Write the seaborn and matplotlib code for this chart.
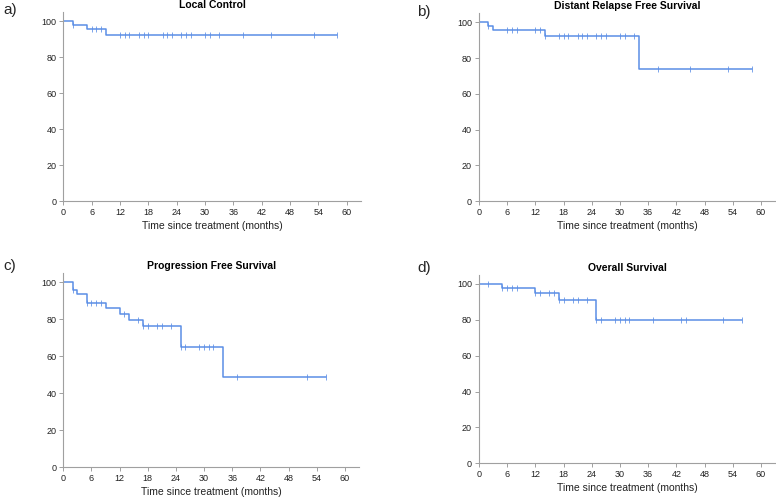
import numpy as np
import pandas as pd
import matplotlib
matplotlib.use("Agg")
import matplotlib.pyplot as plt
import seaborn as sns

sns.set_style("white")
plt.rcParams['font.family'] = ['Liberation Sans', 'DejaVu Sans']

titles = ["Local Control", "Distant Relapse Free Survival",
          "Progression Free Survival", "Overall Survival"]
panel_labels = ["a)", "b)", "c)", "d)"]

# Local control
lc_event_times = [2, 5, 9]
lc_levels = [97.8, 95.6, 92.6]
lc_end = 58
lc_censor = [2, 6, 7, 8, 12, 13, 14, 16, 17, 18, 21, 22, 23, 25, 26, 27,
             30, 31, 33, 38, 44, 53, 58]

# Distant relapse free survival
drfs_event_times = [2, 3, 14, 34]
drfs_levels = [97.8, 95.5, 92.1, 73.7]
drfs_end = 58
drfs_censor = [2, 6, 7, 8, 12, 13, 14, 17, 18, 19, 21, 22, 23, 25, 26, 27,
               30, 31, 33, 38, 45, 53, 58]

# Progression free survival
pfs_event_times = [2, 3, 5, 9, 12, 14, 17, 25, 34]
pfs_levels = [95.8, 93.5, 89.0, 85.9, 83.0, 79.6, 76.2, 65.2, 48.9]
pfs_end = 56
pfs_censor = [2, 5, 6, 7, 8, 13, 16, 17, 18, 20, 21, 23, 25, 26, 29, 30,
              31, 32, 37, 52, 56]

# Overall survival
os_event_times = [5, 12, 17, 25]
os_levels = [97.6, 94.8, 90.9, 79.8]
os_end = 56
os_censor = [2, 5, 6, 7, 8, 12, 13, 15, 16, 17, 18, 20, 21, 23, 25, 26,
             29, 30, 31, 32, 37, 43, 44, 52, 56]

series = [
    (lc_event_times, lc_levels, lc_end, lc_censor),
    (drfs_event_times, drfs_levels, drfs_end, drfs_censor),
    (pfs_event_times, pfs_levels, pfs_end, pfs_censor),
    (os_event_times, os_levels, os_end, os_censor),
]

W, H = 776, 501
fig = plt.figure(figsize=(W / 100, H / 100), dpi=100)

# axes rectangles in pixels: left, top(ylim top), right, bottom
rects = [
    (63.3, 12.3, 361.0, 201.3),
    (479.0, 13.3, 775.0, 201.3),
    (63.3, 273.1, 359.0, 467.3),
    (479.0, 275.0, 775.0, 463.3),
]

line_color = "#5b8ee6"
spine_color = "#a0a0a0"
text_color = "#222222"

for i, ((ev, lv, end, cens), (l, t, r, b)) in enumerate(zip(series, rects)):
    ax = fig.add_axes([l / W, 1 - b / H, (r - l) / W, (b - t) / H])
    xs = [0] + list(ev) + [end]
    ys = [100] + list(lv) + [lv[-1]]
    df = pd.DataFrame({"t": xs, "s": ys})
    sns.lineplot(data=df, x="t", y="s", drawstyle="steps-post",
                 color=line_color, linewidth=1.1, ax=ax, estimator=None)
    # censor marks on the step function
    ev_arr = np.array(ev)
    lv_arr = np.array([100] + list(lv))
    cy = lv_arr[np.searchsorted(ev_arr, np.array(cens), side="right")]
    cdf = pd.DataFrame({"t": cens, "s": cy})
    sns.scatterplot(data=cdf, x="t", y="s", marker="|", s=22,
                    color=line_color, linewidth=0.7, alpha=0.8, ax=ax)
    ax.set_xlim(0, 63)
    ax.set_ylim(0, 105)
    ax.set_xticks(np.arange(0, 61, 6))
    ax.set_yticks(np.arange(0, 101, 20))
    for s in ["top", "right"]:
        ax.spines[s].set_visible(False)
    for s in ["left", "bottom"]:
        ax.spines[s].set_color(spine_color)
        ax.spines[s].set_linewidth(0.8)
    ax.tick_params(axis="both", which="both", length=3, width=0.7,
                   color=spine_color, labelsize=6.5, labelcolor=text_color,
                   pad=2, direction="out", bottom=True, left=True)
    ax.set_ylabel("")
    ax.set_xlabel("Time since treatment (months)", fontsize=7.5,
                  color=text_color, labelpad=3)
    ax.set_title(titles[i], fontsize=7.5, fontweight="bold",
                 color="black", pad=3)

# panel letters
fig.text(3 / W, 1 - 10 / H, "a)", fontsize=11, va="center", ha="left")
fig.text(417 / W, 1 - 12 / H, "b)", fontsize=11, va="center", ha="left")
fig.text(3 / W, 1 - 266 / H, "c)", fontsize=11, va="center", ha="left")
fig.text(417 / W, 1 - 268 / H, "d)", fontsize=11, va="center", ha="left")

fig.savefig("out.png", dpi=100)
